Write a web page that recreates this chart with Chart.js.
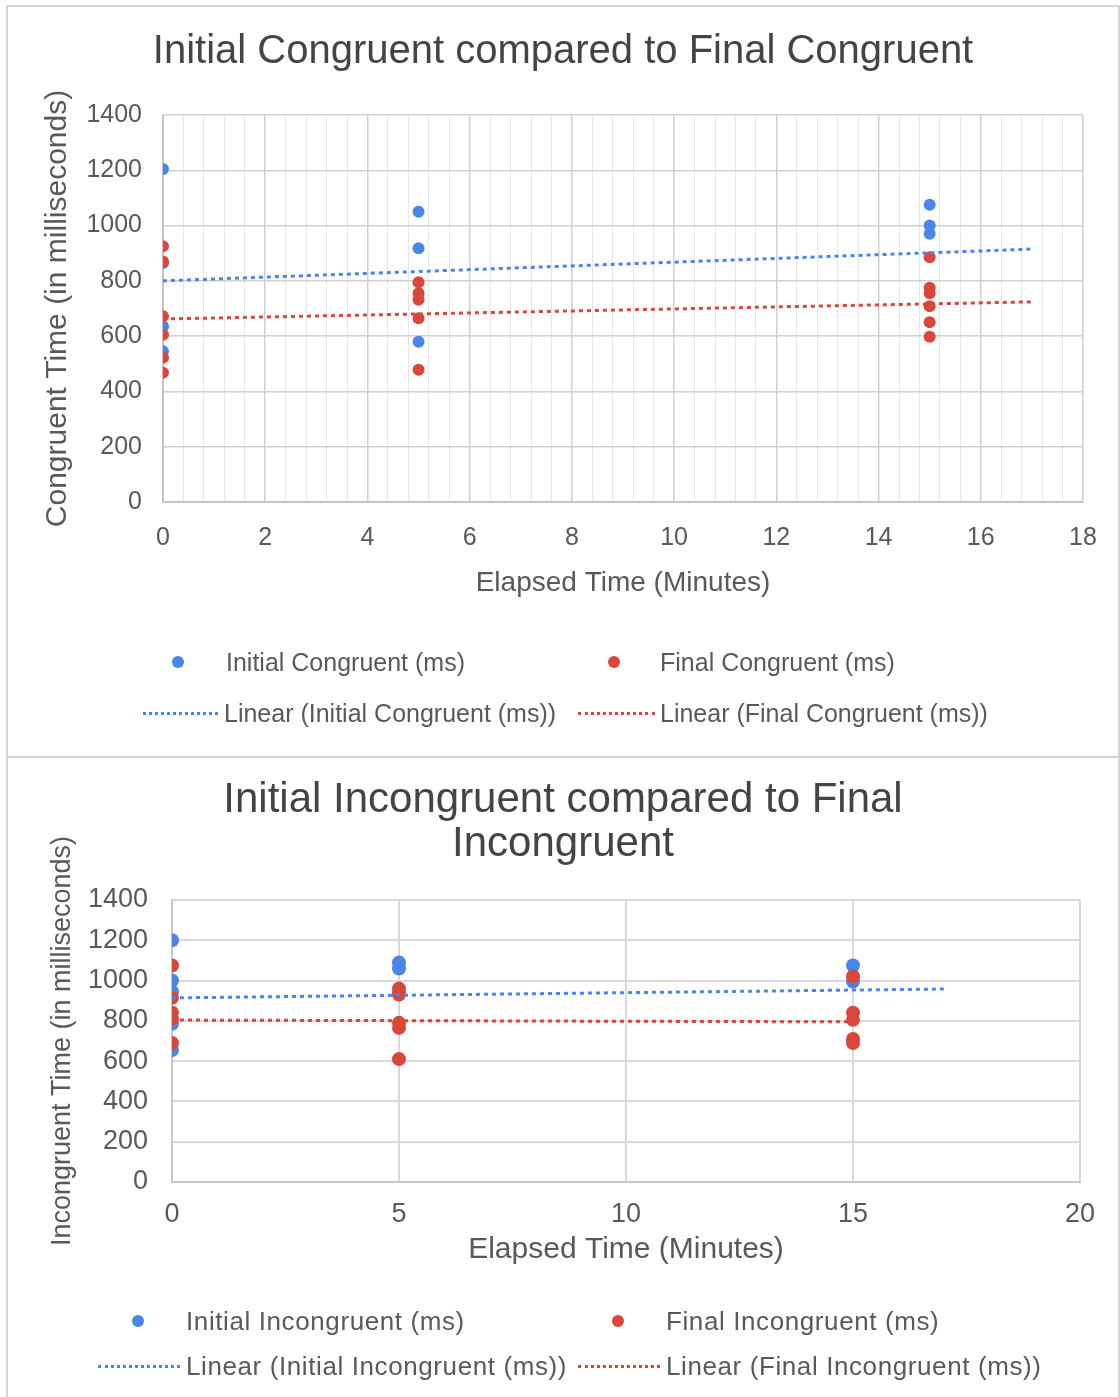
<!DOCTYPE html>
<html>
<head>
<meta charset="utf-8">
<script src="https://cdn.jsdelivr.net/npm/chart.js@4.4.1/dist/chart.umd.min.js"></script>
<style>
  body { margin: 0; background: #fff; width: 1120px; height: 1397px; position: relative; overflow: hidden;
         font-family: "Liberation Sans", Arial, sans-serif; }
  .frame { position: absolute; border: 2px solid #d4d4d4; box-sizing: border-box; }
  .box { position: absolute; }
  .leg { position: absolute; display: flex; align-items: center; height: 32px; color: #595959; white-space: nowrap; }
  .dot { width: 12px; height: 12px; border-radius: 50%; display: inline-block; }
  .dash { display: inline-block; height: 0; border-top: 3px dotted; }
</style>
</head>
<body>
<div class="frame" style="left:6px;top:5px;width:1114px;height:753px;"></div>
<div class="frame" style="left:6px;top:756px;width:1114px;height:645px;"></div>

<div class="box" style="left:8px;top:7px;width:1110px;height:748px;"><canvas id="congruentChart"></canvas></div>
<div class="box" style="left:8px;top:758px;width:1110px;height:639px;"><canvas id="incongruentChart"></canvas></div>

<div class="leg" style="left:172px;top:646px;font-size:25px;"><span class="dot" style="background:#4a86e8"></span><span style="margin-left:42px">Initial Congruent (ms)</span></div>
<div class="leg" style="left:608px;top:646px;font-size:25px;"><span class="dot" style="background:#d9473c"></span><span style="margin-left:40px">Final Congruent (ms)</span></div>
<div class="leg" style="left:143px;top:697px;font-size:25px;"><span class="dash" style="width:75px;border-color:#4a86e8"></span><span style="margin-left:6px">Linear (Initial Congruent (ms))</span></div>
<div class="leg" style="left:578px;top:697px;font-size:25px;"><span class="dash" style="width:77px;border-color:#d9473c"></span><span style="margin-left:5px">Linear (Final Congruent (ms))</span></div>

<div class="leg" style="left:132px;top:1305px;font-size:26px;letter-spacing:0.6px;"><span class="dot" style="background:#4a86e8"></span><span style="margin-left:42px">Initial Incongruent (ms)</span></div>
<div class="leg" style="left:612px;top:1305px;font-size:26px;letter-spacing:0.6px;"><span class="dot" style="background:#d9473c"></span><span style="margin-left:42px">Final Incongruent (ms)</span></div>
<div class="leg" style="left:98px;top:1350px;font-size:26px;letter-spacing:0.6px;"><span class="dash" style="width:82px;border-color:#4a86e8"></span><span style="margin-left:6px">Linear (Initial Incongruent (ms))</span></div>
<div class="leg" style="left:578px;top:1350px;font-size:26px;letter-spacing:0.6px;"><span class="dash" style="width:82px;border-color:#d9473c"></span><span style="margin-left:6px">Linear (Final Incongruent (ms))</span></div>

<script>
// ---- Congruent (top chart) ----
var congInitialMin = [0, 0, 0, 0, 5, 5, 5, 15, 15, 15];
var congInitialMs  = [1205, 865, 635, 545, 1050, 918, 580, 1075, 1000, 970];
var congFinalMin   = [0, 0, 0, 0, 0, 0, 5, 5, 5, 5, 5, 15, 15, 15, 15, 15, 15];
var congFinalMs    = [925, 870, 672, 605, 522, 468, 795, 755, 732, 665, 478, 885, 775, 755, 708, 650, 598];
var congTrendMin      = [0, 17];
var congTrendInitial  = [800, 915];
var congTrendFinal    = [662, 724];

// ---- Incongruent (bottom chart) ----
var incInitialMin = [0, 0, 0, 0, 0, 5, 5, 5, 15, 15];
var incInitialMs  = [1200, 1000, 945, 785, 655, 1090, 1060, 940, 1075, 995];
var incFinalMin   = [0, 0, 0, 0, 0, 5, 5, 5, 5, 5, 15, 15, 15, 15, 15];
var incFinalMs    = [1075, 915, 840, 810, 690, 960, 930, 790, 765, 610, 1020, 840, 805, 710, 690];
var incTrendInitialMin = [0, 17];
var incTrendInitial    = [914, 958];
var incTrendFinalMin   = [0, 15];
var incTrendFinal      = [804, 795];

var blue = '#4a86e8';
var red = '#d9473c';
var fontFam = '"Liberation Sans", Arial, sans-serif';

function pts(xs, ys) {
    return xs.map(function (x, i) { return { x: x, y: ys[i] }; });
}

function trendSet(xs, ys, color) {
    return {
        type: 'line',
        data: pts(xs, ys),
        borderColor: color,
        borderWidth: 3,
        borderDash: [4, 4],
        pointRadius: 0,
        fill: false
    };
}

function pointSet(xs, ys, color, r) {
    return {
        data: pts(xs, ys),
        backgroundColor: color,
        borderWidth: 0,
        pointRadius: r,
        pointHoverRadius: r
    };
}

// spacer axis on the right so the plot ends where the reference does
function spacer(w) {
    return {
        type: 'linear',
        position: 'right',
        display: true,
        grid: { display: false },
        border: { display: false },
        ticks: { display: false },
        afterFit: function (s) { s.width = w; }
    };
}

function isMajor(v, step) {
    return Math.abs(v / step - Math.round(v / step)) < 1e-6;
}

function plain(v) {
    return String(Math.round(v));
}

Chart.defaults.font.family = fontFam;
Chart.defaults.color = '#595959';

const ctx1 = document.getElementById('congruentChart').getContext('2d');
var congChart = new Chart(ctx1, {
    type: 'scatter',
    data: {
        datasets: [
            trendSet(congTrendMin, congTrendInitial, blue),
            trendSet(congTrendMin, congTrendFinal, red),
            pointSet(congFinalMin, congFinalMs, red, 6),
            pointSet(congInitialMin, congInitialMs, blue, 6)
        ]
    },
    options: {
        responsive: true,
        maintainAspectRatio: false,
        animation: false,
        layout: { padding: { left: 0, right: 0, top: 0, bottom: 150 } },
        plugins: {
            legend: { display: false },
            tooltip: { enabled: false },
            title: {
                display: true,
                text: 'Initial Congruent compared to Final Congruent',
                color: '#444',
                font: { size: 40, weight: 'normal', lineHeight: 1.2 },
                padding: { top: 21, bottom: 39 }
            }
        },
        scales: {
            x: {
                type: 'linear',
                min: 0,
                max: 18,
                ticks: {
                    stepSize: 0.4,
                    autoSkip: false,
                    maxRotation: 0,
                    padding: 21,
                    font: { size: 25 },
                    callback: function (v) { return isMajor(v, 2) ? plain(v) : ''; }
                },
                grid: {
                    drawTicks: false,
                    color: function (c) { return c.tick && isMajor(c.tick.value, 2) ? '#cfcfcf' : '#e6e6e6'; },
                    lineWidth: function (c) { return c.tick && isMajor(c.tick.value, 2) ? 1.5 : 1; }
                },
                border: { color: '#c4c4c4', width: 2 },
                title: {
                    display: true,
                    text: 'Elapsed Time (Minutes)',
                    font: { size: 28 },
                    padding: { top: 0, bottom: 5 }
                },
                afterFit: function (s) { s.height = 103; }
            },
            y: {
                type: 'linear',
                min: 0,
                max: 1400,
                ticks: { stepSize: 200, padding: 21, font: { size: 25 }, callback: plain },
                grid: { drawTicks: false, color: '#d0d0d0', lineWidth: 1.5 },
                border: { color: '#c4c4c4', width: 2 },
                title: {
                    display: true,
                    text: 'Congruent Time (in milliseconds)',
                    font: { size: 30 },
                    padding: { top: 32, bottom: 0 }
                },
                afterFit: function (s) { s.width = 155; }
            },
            yr: spacer(35)
        }
    }
});

const ctx2 = document.getElementById('incongruentChart').getContext('2d');
var incChart = new Chart(ctx2, {
    type: 'scatter',
    data: {
        datasets: [
            trendSet(incTrendInitialMin, incTrendInitial, blue),
            trendSet(incTrendFinalMin, incTrendFinal, red),
            pointSet(incFinalMin, incFinalMs, red, 7),
            pointSet(incInitialMin, incInitialMs, blue, 7)
        ]
    },
    options: {
        responsive: true,
        maintainAspectRatio: false,
        animation: false,
        layout: { padding: { left: 0, right: 0, top: 0, bottom: 125 } },
        plugins: {
            legend: { display: false },
            tooltip: { enabled: false },
            title: {
                display: true,
                text: ['Initial Incongruent compared to Final', 'Incongruent'],
                color: '#444',
                font: { size: 42, weight: 'normal', lineHeight: 1.07 },
                padding: { top: 19.5, bottom: 32.6 }
            }
        },
        scales: {
            x: {
                type: 'linear',
                min: 0,
                max: 20,
                ticks: { stepSize: 5, maxRotation: 0, padding: 16, font: { size: 27 }, callback: plain },
                grid: { drawTicks: false, color: '#d9d9d9', lineWidth: 2 },
                border: { color: '#c8c8c8', width: 2 },
                title: {
                    display: true,
                    text: 'Elapsed Time (Minutes)',
                    font: { size: 30 },
                    padding: { top: 0, bottom: 4 }
                },
                afterFit: function (s) { s.height = 90; }
            },
            y: {
                type: 'linear',
                min: 0,
                max: 1400,
                ticks: { stepSize: 200, padding: 24, font: { size: 27 }, callback: plain },
                grid: { drawTicks: false, color: '#d9d9d9', lineWidth: 2 },
                border: { color: '#c8c8c8', width: 2 },
                title: {
                    display: true,
                    text: 'Incongruent Time (in milliseconds)',
                    font: { size: 27 },
                    padding: { top: 38, bottom: 0 }
                },
                afterFit: function (s) { s.width = 164; }
            },
            yr: spacer(38)
        }
    }
});
</script>
</body>
</html>
